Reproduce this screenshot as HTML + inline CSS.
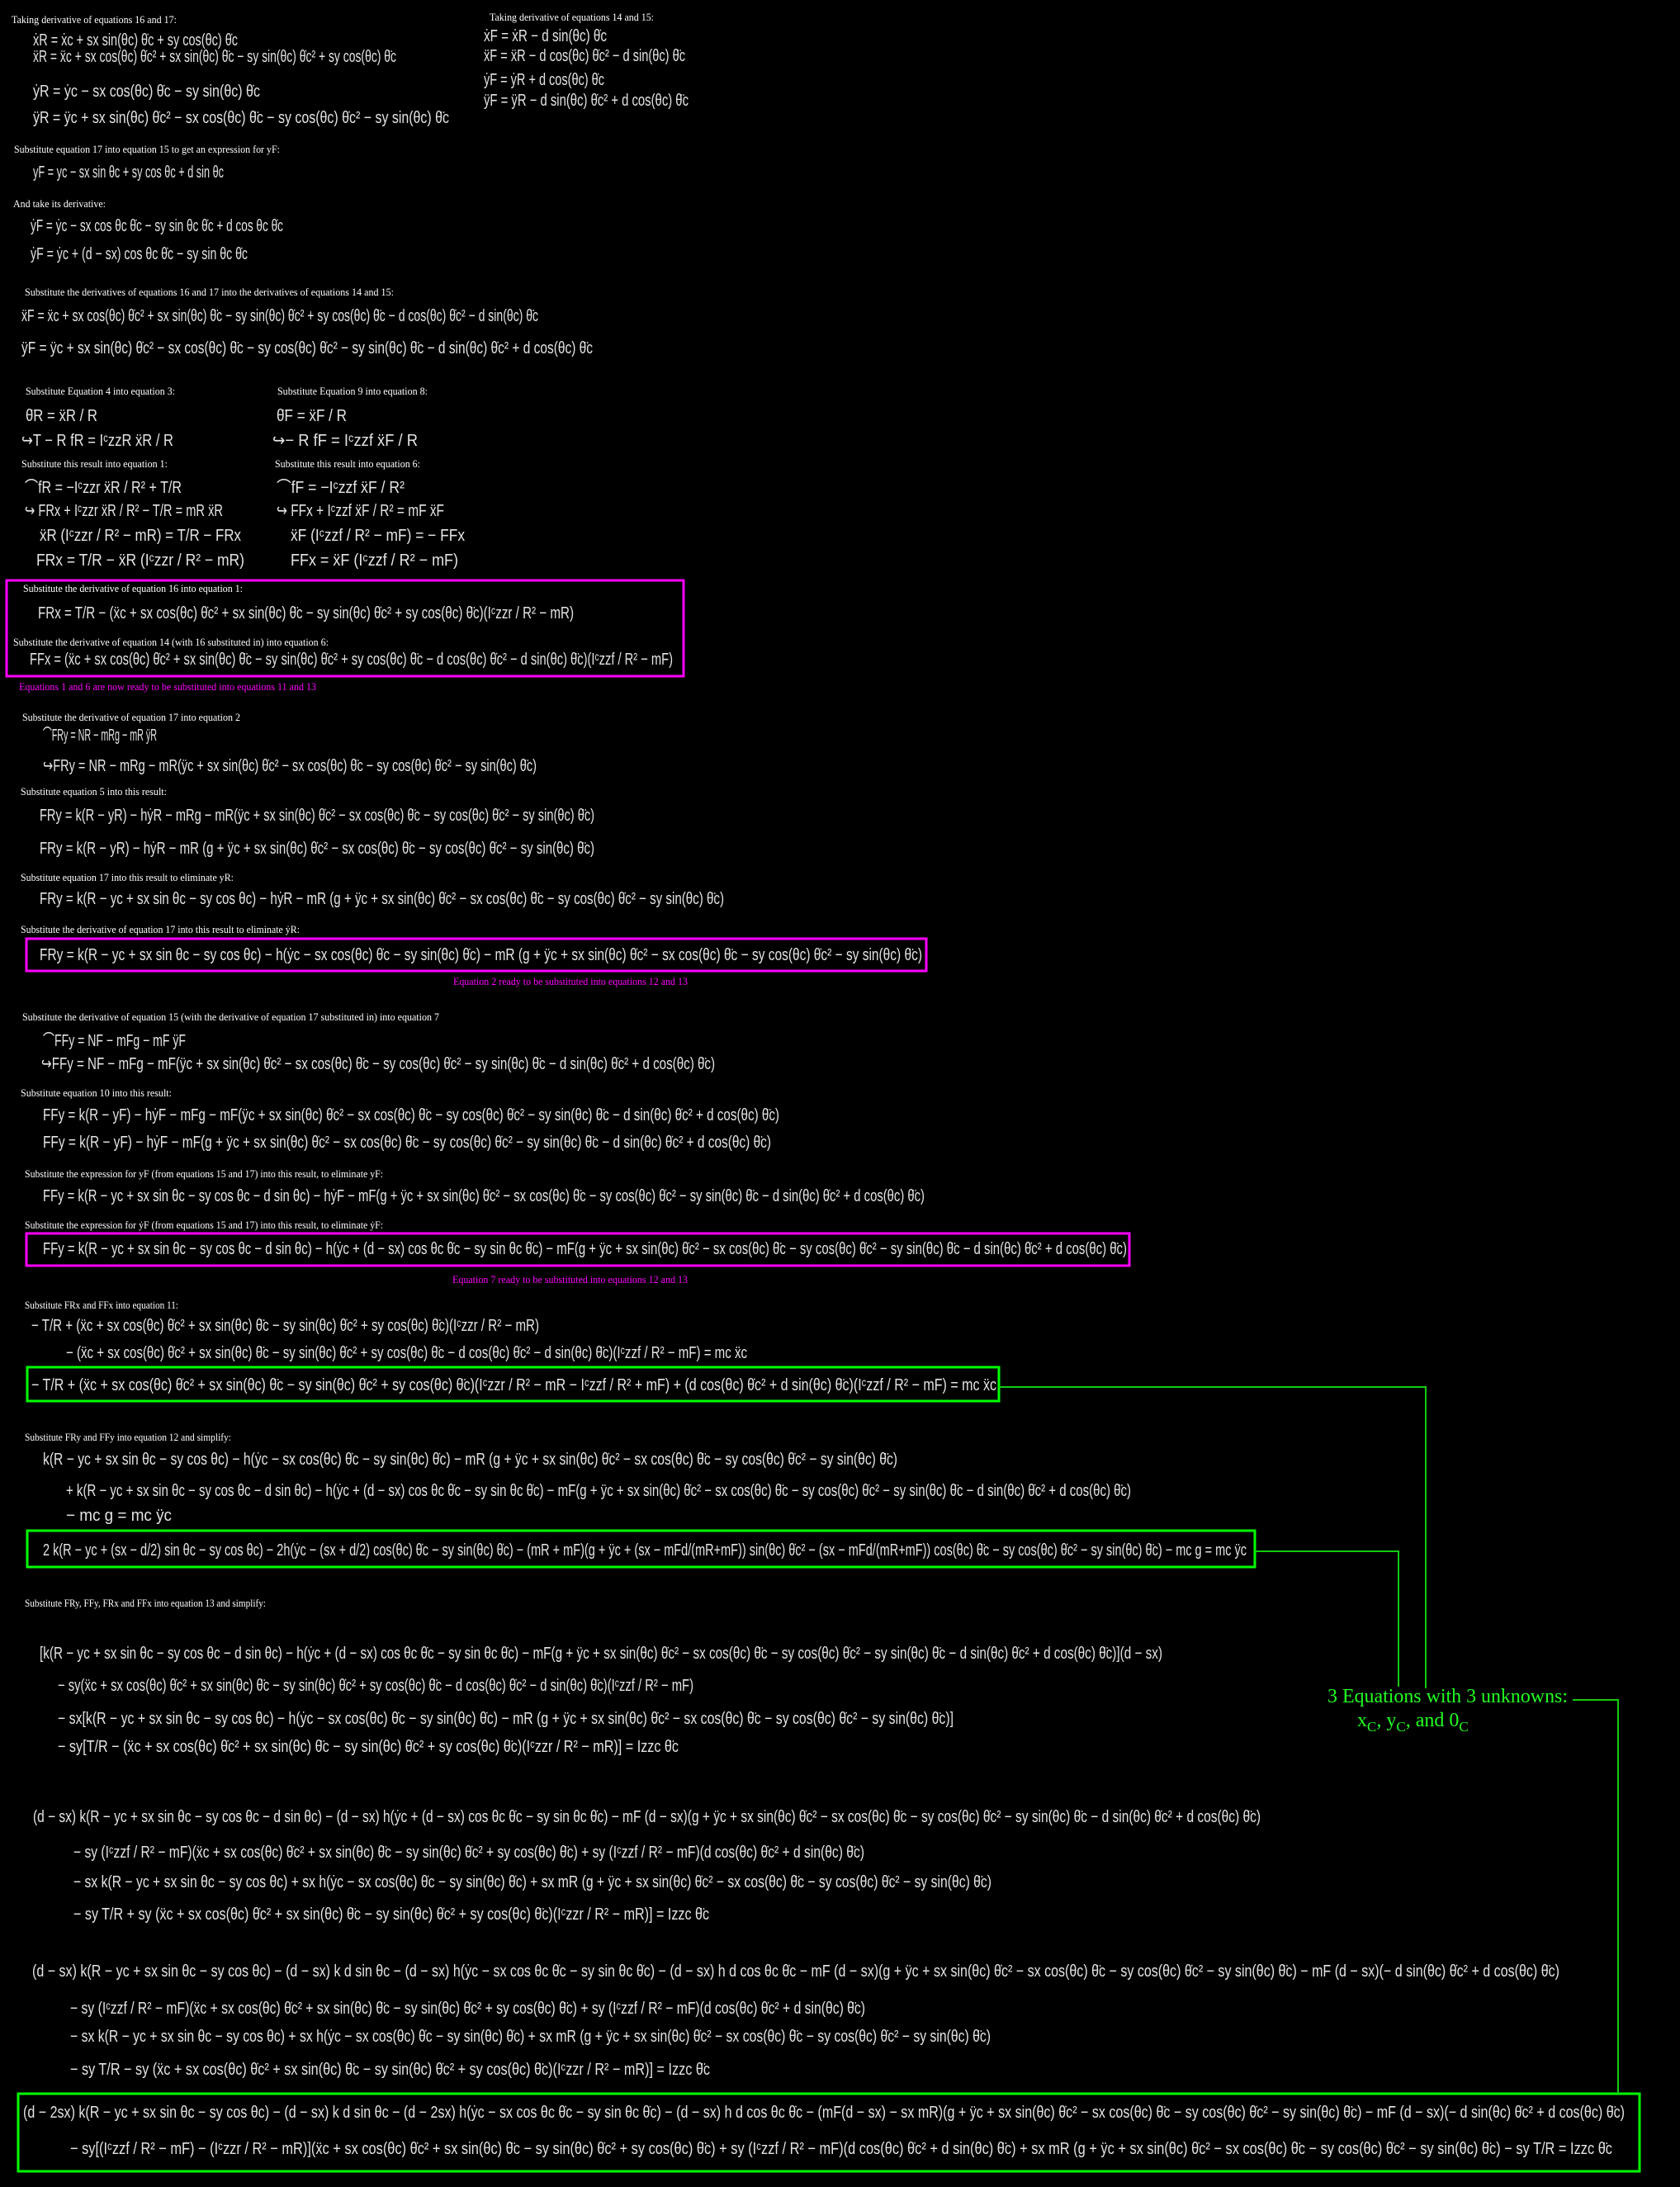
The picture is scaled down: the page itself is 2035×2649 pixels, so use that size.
<!DOCTYPE html>
<html><head><meta charset="utf-8"><style>
html,body{margin:0;padding:0;background:#000;}
svg{display:block}
.l{font-family:"Liberation Serif",serif;font-size:13px;fill:#fff}
.e{font-family:"Liberation Sans",sans-serif;font-size:20px;fill:#e4e4e4}
.m{font-family:"Liberation Serif",serif;font-size:13px;fill:#f0f}
.g{font-family:"Liberation Serif",serif;font-size:24px;fill:#2f2}
</style></head><body>
<svg width="2035" height="2649" xmlns="http://www.w3.org/2000/svg" lengthAdjust="spacingAndGlyphs">
<rect width="2035" height="2649" fill="#000"/>
<g lengthAdjust="spacingAndGlyphs">
<!-- top left -->
<text class="l" x="14" y="28" textLength="200" lengthAdjust="spacingAndGlyphs">Taking derivative of equations 16 and 17:</text>
<text class="e" x="40" y="55" textLength="248" lengthAdjust="spacingAndGlyphs">ẋR = ẋc + sx sin(θc) θ̇c + sy cos(θc) θ̇c</text>
<text class="e" x="40" y="75" textLength="440" lengthAdjust="spacingAndGlyphs">ẍR = ẍc + sx cos(θc) θ̇c² + sx sin(θc) θ̈c − sy sin(θc) θ̇c² + sy cos(θc) θ̈c</text>
<text class="e" x="40" y="117" textLength="275" lengthAdjust="spacingAndGlyphs">ẏR = ẏc − sx cos(θc) θ̇c − sy sin(θc) θ̇c</text>
<text class="e" x="40" y="149" textLength="504" lengthAdjust="spacingAndGlyphs">ÿR = ÿc + sx sin(θc) θ̇c² − sx cos(θc) θ̈c − sy cos(θc) θ̇c² − sy sin(θc) θ̈c</text>
<!-- top right -->
<text class="l" x="593" y="25" textLength="199" lengthAdjust="spacingAndGlyphs">Taking derivative of equations 14 and 15:</text>
<text class="e" x="586" y="50" textLength="149" lengthAdjust="spacingAndGlyphs">ẋF = ẋR − d sin(θc) θ̇c</text>
<text class="e" x="586" y="74" textLength="244" lengthAdjust="spacingAndGlyphs">ẍF = ẍR − d cos(θc) θ̇c² − d sin(θc) θ̈c</text>
<text class="e" x="586" y="103" textLength="146" lengthAdjust="spacingAndGlyphs">ẏF = ẏR + d cos(θc) θ̇c</text>
<text class="e" x="586" y="128" textLength="248" lengthAdjust="spacingAndGlyphs">ÿF = ÿR − d sin(θc) θ̇c² + d cos(θc) θ̈c</text>

<text class="l" x="17" y="185" textLength="322" lengthAdjust="spacingAndGlyphs">Substitute equation 17 into equation 15 to get an expression for yF:</text>
<text class="e" x="40" y="215" textLength="231" lengthAdjust="spacingAndGlyphs">yF = yc − sx sin θc + sy cos θc + d sin θc</text>
<text class="l" x="16" y="251" textLength="112" lengthAdjust="spacingAndGlyphs">And take its derivative:</text>
<text class="e" x="37" y="280" textLength="306" lengthAdjust="spacingAndGlyphs">ẏF = ẏc − sx cos θc θ̇c − sy sin θc θ̇c + d cos θc θ̇c</text>
<text class="e" x="37" y="314" textLength="263" lengthAdjust="spacingAndGlyphs">ẏF = ẏc + (d − sx) cos θc θ̇c − sy sin θc θ̇c</text>

<text class="l" x="30" y="358" textLength="447" lengthAdjust="spacingAndGlyphs">Substitute the derivatives of equations 16 and 17 into the derivatives of equations 14 and  15:</text>
<text class="e" x="26" y="389" textLength="626" lengthAdjust="spacingAndGlyphs">ẍF = ẍc + sx cos(θc) θ̇c² + sx sin(θc) θ̈c − sy sin(θc) θ̇c² + sy cos(θc) θ̈c − d cos(θc) θ̇c² − d sin(θc) θ̈c</text>
<text class="e" x="26" y="428" textLength="692" lengthAdjust="spacingAndGlyphs">ÿF = ÿc + sx sin(θc) θ̇c² − sx cos(θc) θ̈c − sy cos(θc) θ̇c² − sy sin(θc) θ̈c − d sin(θc) θ̇c² + d cos(θc) θ̈c</text>

<text class="l" x="31" y="478" textLength="181" lengthAdjust="spacingAndGlyphs">Substitute Equation 4 into equation 3:</text>
<text class="l" x="336" y="478" textLength="182" lengthAdjust="spacingAndGlyphs">Substitute Equation 9 into equation 8:</text>
<text class="e" x="31" y="510" textLength="87" lengthAdjust="spacingAndGlyphs">θ̈R = ẍR / R</text>
<text class="e" x="26" y="540" textLength="184" lengthAdjust="spacingAndGlyphs">↪T − R fR = IᶜzzR ẍR / R</text>
<text class="e" x="335" y="510" textLength="85" lengthAdjust="spacingAndGlyphs">θ̈F = ẍF / R</text>
<text class="e" x="330" y="540" textLength="176" lengthAdjust="spacingAndGlyphs">↪− R fF = Iᶜzzf ẍF / R</text>
<text class="l" x="26" y="566" textLength="177" lengthAdjust="spacingAndGlyphs">Substitute this result into equation 1:</text>
<text class="l" x="333" y="566" textLength="176" lengthAdjust="spacingAndGlyphs">Substitute this result into equation 6:</text>
<text class="e" x="30" y="597" textLength="190" lengthAdjust="spacingAndGlyphs">⌒fR = −Iᶜzzr ẍR / R² + T/R</text>
<text class="e" x="30" y="625" textLength="240" lengthAdjust="spacingAndGlyphs">↪ FRx + Iᶜzzr ẍR / R² − T/R = mR ẍR</text>
<text class="e" x="48" y="655" textLength="244" lengthAdjust="spacingAndGlyphs">ẍR (Iᶜzzr / R² − mR) = T/R − FRx</text>
<text class="e" x="44" y="685" textLength="252" lengthAdjust="spacingAndGlyphs">FRx = T/R − ẍR (Iᶜzzr / R² − mR)</text>
<text class="e" x="335" y="597" textLength="155" lengthAdjust="spacingAndGlyphs">⌒fF = −Iᶜzzf ẍF / R²</text>
<text class="e" x="335" y="625" textLength="203" lengthAdjust="spacingAndGlyphs">↪ FFx + Iᶜzzf ẍF / R² = mF ẍF</text>
<text class="e" x="352" y="655" textLength="211" lengthAdjust="spacingAndGlyphs">ẍF (Iᶜzzf / R² − mF) = − FFx</text>
<text class="e" x="352" y="685" textLength="203" lengthAdjust="spacingAndGlyphs">FFx = ẍF (Iᶜzzf / R² − mF)</text>

<!-- magenta box 1 -->
<rect x="8" y="703" width="820" height="116" fill="none" stroke="#f0f" stroke-width="3"/>
<text class="l" x="28" y="717" textLength="266" lengthAdjust="spacingAndGlyphs">Substitute the derivative of equation 16 into equation 1:</text>
<text class="e" x="46" y="749" textLength="649" lengthAdjust="spacingAndGlyphs">FRx = T/R − (ẍc + sx cos(θc) θ̇c² + sx sin(θc) θ̈c − sy sin(θc) θ̇c² + sy cos(θc) θ̈c)(Iᶜzzr / R² − mR)</text>
<text class="l" x="16" y="782" textLength="382" lengthAdjust="spacingAndGlyphs">Substitute the derivative of equation 14 (with 16 substituted in) into equation 6:</text>
<text class="e" x="36" y="805" textLength="779" lengthAdjust="spacingAndGlyphs">FFx = (ẍc + sx cos(θc) θ̇c² + sx sin(θc) θ̈c − sy sin(θc) θ̇c² + sy cos(θc) θ̈c − d cos(θc) θ̇c² − d sin(θc) θ̈c)(Iᶜzzf / R² − mF)</text>
<text class="m" x="23" y="836" textLength="360" lengthAdjust="spacingAndGlyphs">Equations 1 and 6 are now ready to be substituted into equations 11 and 13</text>

<text class="l" x="27" y="873" textLength="264" lengthAdjust="spacingAndGlyphs">Substitute the derivative of equation 17 into equation 2</text>
<text class="e" x="52" y="897" textLength="138" lengthAdjust="spacingAndGlyphs">⌒FRy = NR − mRg − mR ÿR</text>
<text class="e" x="52" y="934" textLength="598" lengthAdjust="spacingAndGlyphs">↪FRy = NR − mRg − mR(ÿc + sx sin(θc) θ̇c² − sx cos(θc) θ̈c − sy cos(θc) θ̇c² − sy sin(θc) θ̈c)</text>
<text class="l" x="25" y="963" textLength="177" lengthAdjust="spacingAndGlyphs">Substitute equation 5 into this result:</text>
<text class="e" x="48" y="994" textLength="672" lengthAdjust="spacingAndGlyphs">FRy = k(R − yR) − hẏR − mRg − mR(ÿc + sx sin(θc) θ̇c² − sx cos(θc) θ̈c − sy cos(θc) θ̇c² − sy sin(θc) θ̈c)</text>
<text class="e" x="48" y="1034" textLength="672" lengthAdjust="spacingAndGlyphs">FRy = k(R − yR) − hẏR − mR (g + ÿc + sx sin(θc) θ̇c² − sx cos(θc) θ̈c − sy cos(θc) θ̇c² − sy sin(θc) θ̈c)</text>
<text class="l" x="25" y="1067" textLength="258" lengthAdjust="spacingAndGlyphs">Substitute equation 17 into this result to eliminate yR:</text>
<text class="e" x="48" y="1095" textLength="829" lengthAdjust="spacingAndGlyphs">FRy = k(R − yc + sx sin θc − sy cos θc) − hẏR − mR (g + ÿc + sx sin(θc) θ̇c² − sx cos(θc) θ̈c − sy cos(θc) θ̇c² − sy sin(θc) θ̈c)</text>
<text class="l" x="25" y="1130" textLength="338" lengthAdjust="spacingAndGlyphs">Substitute the derivative of equation 17 into this result to eliminate ẏR:</text>
<rect x="32" y="1137" width="1090" height="39" fill="none" stroke="#f0f" stroke-width="3"/>
<text class="e" x="48" y="1163" textLength="1069" lengthAdjust="spacingAndGlyphs">FRy = k(R − yc + sx sin θc − sy cos θc) − h(ẏc − sx cos(θc) θ̇c − sy sin(θc) θ̇c) − mR (g + ÿc + sx sin(θc) θ̇c² − sx cos(θc) θ̈c − sy cos(θc) θ̇c² − sy sin(θc) θ̈c)</text>
<text class="m" x="549" y="1193" textLength="284" lengthAdjust="spacingAndGlyphs">Equation 2 ready to be substituted into equations 12 and 13</text>

<text class="l" x="27" y="1236" textLength="505" lengthAdjust="spacingAndGlyphs">Substitute the derivative of equation 15 (with the derivative of equation 17 substituted in) into equation 7</text>
<text class="e" x="52" y="1267" textLength="173" lengthAdjust="spacingAndGlyphs">⌒FFy = NF − mFg − mF ÿF</text>
<text class="e" x="50" y="1295" textLength="816" lengthAdjust="spacingAndGlyphs">↪FFy = NF − mFg − mF(ÿc + sx sin(θc) θ̇c² − sx cos(θc) θ̈c − sy cos(θc) θ̇c² − sy sin(θc) θ̈c − d sin(θc) θ̇c² + d cos(θc) θ̈c)</text>
<text class="l" x="25" y="1328" textLength="183" lengthAdjust="spacingAndGlyphs">Substitute equation 10 into this result:</text>
<text class="e" x="52" y="1357" textLength="892" lengthAdjust="spacingAndGlyphs">FFy = k(R − yF) − hẏF − mFg − mF(ÿc + sx sin(θc) θ̇c² − sx cos(θc) θ̈c − sy cos(θc) θ̇c² − sy sin(θc) θ̈c − d sin(θc) θ̇c² + d cos(θc) θ̈c)</text>
<text class="e" x="52" y="1390" textLength="882" lengthAdjust="spacingAndGlyphs">FFy = k(R − yF) − hẏF − mF(g + ÿc + sx sin(θc) θ̇c² − sx cos(θc) θ̈c − sy cos(θc) θ̇c² − sy sin(θc) θ̈c − d sin(θc) θ̇c² + d cos(θc) θ̈c)</text>
<text class="l" x="30" y="1426" textLength="434" lengthAdjust="spacingAndGlyphs">Substitute the expression for yF (from equations 15 and 17) into this result, to eliminate yF:</text>
<text class="e" x="52" y="1455" textLength="1068" lengthAdjust="spacingAndGlyphs">FFy = k(R − yc + sx sin θc − sy cos θc − d sin θc) − hẏF − mF(g + ÿc + sx sin(θc) θ̇c² − sx cos(θc) θ̈c − sy cos(θc) θ̇c² − sy sin(θc) θ̈c − d sin(θc) θ̇c² + d cos(θc) θ̈c)</text>
<text class="l" x="30" y="1488" textLength="434" lengthAdjust="spacingAndGlyphs">Substitute the expression for ẏF (from equations 15 and 17) into this result, to eliminate ẏF:</text>
<rect x="32" y="1494" width="1336" height="39" fill="none" stroke="#f0f" stroke-width="3"/>
<text class="e" x="52" y="1519" textLength="1313" lengthAdjust="spacingAndGlyphs">FFy = k(R − yc + sx sin θc − sy cos θc − d sin θc) − h(ẏc + (d − sx) cos θc θ̇c − sy sin θc θ̇c) − mF(g + ÿc + sx sin(θc) θ̇c² − sx cos(θc) θ̈c − sy cos(θc) θ̇c² − sy sin(θc) θ̈c − d sin(θc) θ̇c² + d cos(θc) θ̈c)</text>
<text class="m" x="548" y="1554" textLength="285" lengthAdjust="spacingAndGlyphs">Equation 7 ready to be substituted into equations 12 and 13</text>

<text class="l" x="30" y="1585" textLength="186" lengthAdjust="spacingAndGlyphs">Substitute FRx and FFx into equation 11:</text>
<text class="e" x="38" y="1612" textLength="615" lengthAdjust="spacingAndGlyphs">− T/R + (ẍc + sx cos(θc) θ̇c² + sx sin(θc) θ̈c − sy sin(θc) θ̇c² + sy cos(θc) θ̈c)(Iᶜzzr / R² − mR)</text>
<text class="e" x="80" y="1645" textLength="825" lengthAdjust="spacingAndGlyphs">− (ẍc + sx cos(θc) θ̇c² + sx sin(θc) θ̈c − sy sin(θc) θ̇c² + sy cos(θc) θ̈c − d cos(θc) θ̇c² − d sin(θc) θ̈c)(Iᶜzzf / R² − mF) = mc ẍc</text>
<rect x="33" y="1656" width="1177" height="41" fill="none" stroke="#0f0" stroke-width="3"/>
<text class="e" x="38" y="1684" textLength="1169" lengthAdjust="spacingAndGlyphs">− T/R + (ẍc + sx cos(θc) θ̇c² + sx sin(θc) θ̈c − sy sin(θc) θ̇c² + sy cos(θc) θ̈c)(Iᶜzzr / R² − mR − Iᶜzzf / R² + mF) + (d cos(θc) θ̇c² + d sin(θc) θ̈c)(Iᶜzzf / R² − mF) = mc ẍc</text>

<text class="l" x="30" y="1745" textLength="250" lengthAdjust="spacingAndGlyphs">Substitute FRy and FFy into equation 12 and simplify:</text>
<text class="e" x="52" y="1774" textLength="1035" lengthAdjust="spacingAndGlyphs">k(R − yc + sx sin θc − sy cos θc) − h(ẏc − sx cos(θc) θ̇c − sy sin(θc) θ̇c) − mR (g + ÿc + sx sin(θc) θ̇c² − sx cos(θc) θ̈c − sy cos(θc) θ̇c² − sy sin(θc) θ̈c)</text>
<text class="e" x="80" y="1812" textLength="1290" lengthAdjust="spacingAndGlyphs">+ k(R − yc + sx sin θc − sy cos θc − d sin θc) − h(ẏc + (d − sx) cos θc θ̇c − sy sin θc θ̇c) − mF(g + ÿc + sx sin(θc) θ̇c² − sx cos(θc) θ̈c − sy cos(θc) θ̇c² − sy sin(θc) θ̈c − d sin(θc) θ̇c² + d cos(θc) θ̈c)</text>
<text class="e" x="80" y="1842" textLength="128" lengthAdjust="spacingAndGlyphs">− mc g = mc ÿc</text>
<rect x="33" y="1854" width="1487" height="44" fill="none" stroke="#0f0" stroke-width="3"/>
<text class="e" x="52" y="1884" textLength="1458" lengthAdjust="spacingAndGlyphs">2 k(R − yc + (sx − d/2) sin θc − sy cos θc) − 2h(ẏc − (sx + d/2) cos(θc) θ̇c − sy sin(θc) θ̇c) − (mR + mF)(g + ÿc + (sx − mFd/(mR+mF)) sin(θc) θ̇c² − (sx − mFd/(mR+mF)) cos(θc) θ̈c − sy cos(θc) θ̇c² − sy sin(θc) θ̈c) − mc g = mc ÿc</text>

<text class="l" x="30" y="1946" textLength="292" lengthAdjust="spacingAndGlyphs">Substitute FRy, FFy, FRx and FFx into equation 13 and simplify:</text>
<text class="e" x="48" y="2009" textLength="1360" lengthAdjust="spacingAndGlyphs">[k(R − yc + sx sin θc − sy cos θc − d sin θc) − h(ẏc + (d − sx) cos θc θ̇c − sy sin θc θ̇c) − mF(g + ÿc + sx sin(θc) θ̇c² − sx cos(θc) θ̈c − sy cos(θc) θ̇c² − sy sin(θc) θ̈c − d sin(θc) θ̇c² + d cos(θc) θ̈c)](d − sx)</text>
<text class="e" x="70" y="2048" textLength="770" lengthAdjust="spacingAndGlyphs">− sy(ẍc + sx cos(θc) θ̇c² + sx sin(θc) θ̈c − sy sin(θc) θ̇c² + sy cos(θc) θ̈c − d cos(θc) θ̇c² − d sin(θc) θ̈c)(Iᶜzzf / R² − mF)</text>
<text class="e" x="70" y="2088" textLength="1085" lengthAdjust="spacingAndGlyphs">− sx[k(R − yc + sx sin θc − sy cos θc) − h(ẏc − sx cos(θc) θ̇c − sy sin(θc) θ̇c) − mR (g + ÿc + sx sin(θc) θ̇c² − sx cos(θc) θ̈c − sy cos(θc) θ̇c² − sy sin(θc) θ̈c)]</text>
<text class="e" x="70" y="2122" textLength="752" lengthAdjust="spacingAndGlyphs">− sy[T/R − (ẍc + sx cos(θc) θ̇c² + sx sin(θc) θ̈c − sy sin(θc) θ̇c² + sy cos(θc) θ̈c)(Iᶜzzr / R² − mR)] = Izzc θ̈c</text>

<text class="e" x="40" y="2207" textLength="1487" lengthAdjust="spacingAndGlyphs">(d − sx) k(R − yc + sx sin θc − sy cos θc − d sin θc) − (d − sx) h(ẏc + (d − sx) cos θc θ̇c − sy sin θc θ̇c) − mF (d − sx)(g + ÿc + sx sin(θc) θ̇c² − sx cos(θc) θ̈c − sy cos(θc) θ̇c² − sy sin(θc) θ̈c − d sin(θc) θ̇c² + d cos(θc) θ̈c)</text>
<text class="e" x="89" y="2250" textLength="958" lengthAdjust="spacingAndGlyphs">− sy (Iᶜzzf / R² − mF)(ẍc + sx cos(θc) θ̇c² + sx sin(θc) θ̈c − sy sin(θc) θ̇c² + sy cos(θc) θ̈c) + sy (Iᶜzzf / R² − mF)(d cos(θc) θ̇c² + d sin(θc) θ̈c)</text>
<text class="e" x="89" y="2286" textLength="1112" lengthAdjust="spacingAndGlyphs">− sx k(R − yc + sx sin θc − sy cos θc) + sx h(ẏc − sx cos(θc) θ̇c − sy sin(θc) θ̇c) + sx mR (g + ÿc + sx sin(θc) θ̇c² − sx cos(θc) θ̈c − sy cos(θc) θ̇c² − sy sin(θc) θ̈c)</text>
<text class="e" x="89" y="2325" textLength="770" lengthAdjust="spacingAndGlyphs">− sy T/R + sy (ẍc + sx cos(θc) θ̇c² + sx sin(θc) θ̈c − sy sin(θc) θ̇c² + sy cos(θc) θ̈c)(Iᶜzzr / R² − mR)] = Izzc θ̈c</text>

<text class="e" x="39" y="2394" textLength="1850" lengthAdjust="spacingAndGlyphs">(d − sx) k(R − yc + sx sin θc − sy cos θc) − (d − sx) k d sin θc − (d − sx) h(ẏc − sx cos θc θ̇c − sy sin θc θ̇c) − (d − sx) h d cos θc θ̇c − mF (d − sx)(g + ÿc + sx sin(θc) θ̇c² − sx cos(θc) θ̈c − sy cos(θc) θ̇c² − sy sin(θc) θ̈c) − mF (d − sx)(− d sin(θc) θ̇c² + d cos(θc) θ̈c)</text>
<text class="e" x="85" y="2439" textLength="963" lengthAdjust="spacingAndGlyphs">− sy (Iᶜzzf / R² − mF)(ẍc + sx cos(θc) θ̇c² + sx sin(θc) θ̈c − sy sin(θc) θ̇c² + sy cos(θc) θ̈c) + sy (Iᶜzzf / R² − mF)(d cos(θc) θ̇c² + d sin(θc) θ̈c)</text>
<text class="e" x="85" y="2473" textLength="1115" lengthAdjust="spacingAndGlyphs">− sx k(R − yc + sx sin θc − sy cos θc) + sx h(ẏc − sx cos(θc) θ̇c − sy sin(θc) θ̇c) + sx mR (g + ÿc + sx sin(θc) θ̇c² − sx cos(θc) θ̈c − sy cos(θc) θ̇c² − sy sin(θc) θ̈c)</text>
<text class="e" x="85" y="2513" textLength="775" lengthAdjust="spacingAndGlyphs">− sy T/R − sy (ẍc + sx cos(θc) θ̇c² + sx sin(θc) θ̈c − sy sin(θc) θ̇c² + sy cos(θc) θ̈c)(Iᶜzzr / R² − mR)] = Izzc θ̈c</text>

<rect x="22" y="2536" width="1964" height="94" fill="none" stroke="#0f0" stroke-width="3"/>
<text class="e" x="28" y="2565" textLength="1940" lengthAdjust="spacingAndGlyphs">(d − 2sx) k(R − yc + sx sin θc − sy cos θc) − (d − sx) k d sin θc − (d − 2sx) h(ẏc − sx cos θc θ̇c − sy sin θc θ̇c) − (d − sx) h d cos θc θ̇c − (mF(d − sx) − sx mR)(g + ÿc + sx sin(θc) θ̇c² − sx cos(θc) θ̈c − sy cos(θc) θ̇c² − sy sin(θc) θ̈c) − mF (d − sx)(− d sin(θc) θ̇c² + d cos(θc) θ̈c)</text>
<text class="e" x="85" y="2609" textLength="1868" lengthAdjust="spacingAndGlyphs">− sy[(Iᶜzzf / R² − mF) − (Iᶜzzr / R² − mR)](ẍc + sx cos(θc) θ̇c² + sx sin(θc) θ̈c − sy sin(θc) θ̇c² + sy cos(θc) θ̈c) + sy (Iᶜzzf / R² − mF)(d cos(θc) θ̇c² + d sin(θc) θ̈c) + sx mR (g + ÿc + sx sin(θc) θ̇c² − sx cos(θc) θ̈c − sy cos(θc) θ̇c² − sy sin(θc) θ̈c) − sy T/R = Izzc θ̈c</text>

<!-- green connectors -->
<polyline points="1210,1680 1727,1680 1727,2045" fill="none" stroke="#1c1" stroke-width="2"/>
<polyline points="1520,1879 1694,1879 1694,2043" fill="none" stroke="#1c1" stroke-width="2"/>
<polyline points="1905,2059 1960,2059 1960,2536" fill="none" stroke="#1c1" stroke-width="2"/>
<text class="g" x="1608" y="2062" textLength="291" lengthAdjust="spacingAndGlyphs">3 Equations with 3 unknowns:</text>
<text class="g" x="1644" y="2091">x<tspan font-size="17" dy="6">C</tspan><tspan dy="-6">, y</tspan><tspan font-size="17" dy="6">C</tspan><tspan dy="-6">, and 0</tspan><tspan font-size="17" dy="6">C</tspan></text>
</g>
</svg>
</body></html>
